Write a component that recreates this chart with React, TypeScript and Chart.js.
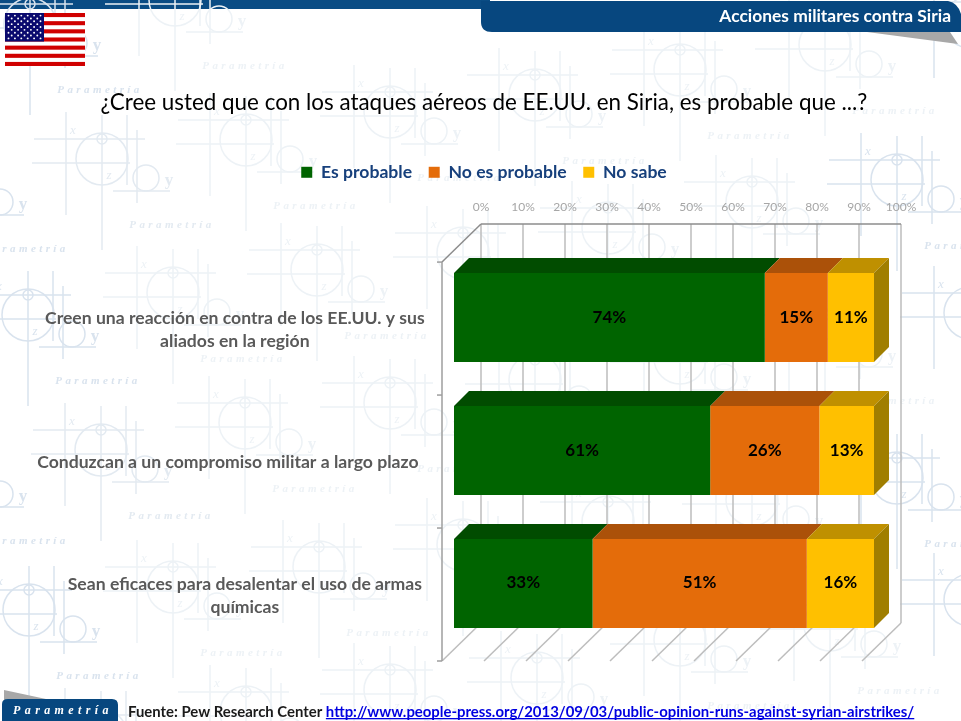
import React, { useEffect, useRef } from "react";
import { Chart, registerables } from "chart.js";

Chart.register(...registerables);

const categories: (string | string[])[] = [
  ["Creen una reacción en contra de los EE.UU. y sus", "aliados en la región"],
  "Conduzcan a un compromiso militar a largo plazo",
  ["Sean eficaces para desalentar el uso de armas", "químicas"],
];
const esProbable = [74, 61, 33];
const noEsProbable = [15, 26, 51];
const noSabe = [11, 13, 16];
const seriesNames = ["Es probable", "No es probable", "No sabe"];

const titleText = "¿Cree usted que con los ataques aéreos de EE.UU. en Siria, es probable que ...?";
const headerText = "Acciones militares contra Siria";
const sourceText = "Fuente: Pew Research Center ";
const sourceLink = "http://www.people-press.org/2013/09/03/public-opinion-runs-against-syrian-airstrikes/";
const brandText = "Parametría";

const FACE = ["#006400", "#E46C0A", "#FFC000"];
const TOP = ["#014C00", "#AB5109", "#BF9000"];
const SIDE = "#A07E00";
const FONT = "Lato";
const SERIF = "'Liberation Serif'";

const MOTIFS: [number, number][] = [
  [30, 24], [175, 0],
  [-44, 183], [102, 159], [246, 140], [390, 112], [535, 95], [680, 70], [825, 45], [970, 22],
  [28, 315], [173, 293], [317, 270], [463, 253], [608, 228], [752, 202], [897, 180],
  [-44, 475], [101, 450], [245, 423], [390, 403], [535, 380], [680, 358], [825, 335], [970, 313],
  [29, 610], [173, 587], [319, 567], [463, 545], [608, 522], [752, 500], [897, 478],
  [101, 735], [246, 712], [390, 690], [537, 678], [680, 640], [830, 625], [970, 600],
];

function seg(c: CanvasRenderingContext2D, x1: number, y1: number, x2: number, y2: number) {
  c.beginPath();
  c.moveTo(x1, y1);
  c.lineTo(x2, y2);
  c.stroke();
}
function poly(c: CanvasRenderingContext2D, pts: number[][], fill: string) {
  c.beginPath();
  pts.forEach((p, i) => (i ? c.lineTo(p[0], p[1]) : c.moveTo(p[0], p[1])));
  c.closePath();
  c.fillStyle = fill;
  c.fill();
}

function drawMotif(c: CanvasRenderingContext2D, x: number, y: number) {
  const dark = x < 60 || x > 860;
  const col = dark ? "#d9e3ee" : x < 110 ? "#e3eaf1" : "#edf2f6";
  c.strokeStyle = col;
  c.fillStyle = col;
  c.lineWidth = 1.5;
  seg(c, x - 36, y - 47, x - 36, y + 56);
  seg(c, x, y - 44, x, y + 91);
  seg(c, x + 25, y - 44, x + 25, y + 26);
  seg(c, x + 35, y - 29, x + 35, y + 44);
  seg(c, x - 68, y - 20, x + 43, y - 20);
  seg(c, x - 70, y + 4, x + 28, y + 4);
  seg(c, x + 11, y + 32, x + 68, y + 32);
  c.beginPath();
  c.arc(x, y, 26, 0, Math.PI * 2);
  c.stroke();
  c.beginPath();
  c.arc(x, y - 20, 5, 0, Math.PI * 2);
  c.stroke();
  c.beginPath();
  c.arc(x + 44, y + 19, 13, 0, Math.PI * 2);
  c.stroke();
  c.textAlign = "center";
  c.textBaseline = "middle";
  c.font = `italic 13px ${SERIF}`;
  c.fillText("x", x - 29, y - 28);
  c.fillText("z", x + 7, y + 17);
  c.font = `bold 17px ${SERIF}`;
  c.fillText("y", x + 67, y + 22);
  c.font = `italic bold 11px ${SERIF}`;
  (c as any).letterSpacing = "3.4px";
  c.fillText(brandText, x + 70, y + 66);
  (c as any).letterSpacing = "0px";
}

function drawFlag(c: CanvasRenderingContext2D) {
  const fx = 5, fy = 13, fw = 80, fh = 53;
  c.fillStyle = "#fff";
  c.fillRect(fx, fy, fw, fh);
  c.fillStyle = "#D00000";
  for (let i = 0; i < 13; i += 2) c.fillRect(fx, fy + (i * fh) / 13, fw, fh / 13);
  c.fillStyle = "#0A0A6E";
  c.fillRect(fx, fy, 39, (7 * fh) / 13);
  c.fillStyle = "#fff";
  for (let r = 0; r < 9; r++) {
    const n = r % 2 ? 5 : 6;
    for (let s = 0; s < n; s++) {
      c.beginPath();
      c.arc(fx + 3.5 + (r % 2 ? 3.2 : 0) + s * 6.4, fy + 2.6 + r * 2.85, 0.95, 0, Math.PI * 2);
      c.fill();
    }
  }
}

function drawPage(chart: any) {
  const c: CanvasRenderingContext2D = chart.ctx;
  const W = chart.width, H = chart.height;
  c.save();
  c.fillStyle = "#fff";
  c.fillRect(0, 0, W, H);
  // top band, then the watermark over it
  c.fillStyle = "#0A4C84";
  c.fillRect(0, 0, 490, 9);
  MOTIFS.forEach(([x, y]) => drawMotif(c, x, y));
  // header tab
  poly(c, [[867, 32], [950, 32], [958, 44]], "#A8A8A8");
  c.beginPath();
  c.moveTo(481, 0);
  c.lineTo(481, 22);
  c.quadraticCurveTo(481, 32, 492, 32);
  c.lineTo(961, 32);
  c.lineTo(961, 14);
  c.quadraticCurveTo(958, 3, 948, 1);
  c.lineTo(481, 1);
  c.closePath();
  c.fillStyle = "#07477F";
  c.fill();
  c.fillStyle = "#fff";
  c.textAlign = "right";
  c.textBaseline = "middle";
  c.font = `bold 17.4px ${FONT}`;
  c.fillText(headerText, 951, 16);
  drawFlag(c);
  // footer tag
  poly(c, [[4, 690], [46, 699], [4, 700]], "#A8A8A8");
  c.beginPath();
  c.moveTo(2, 721);
  c.lineTo(2, 704);
  c.quadraticCurveTo(2, 699, 8, 699);
  c.lineTo(112, 699);
  c.quadraticCurveTo(118, 699, 118, 705);
  c.lineTo(118, 721);
  c.closePath();
  c.fillStyle = "#07477F";
  c.fill();
  c.fillStyle = "#fff";
  c.textAlign = "left";
  c.font = `italic bold 12px ${SERIF}`;
  (c as any).letterSpacing = "4.4px";
  c.fillText(brandText, 13, 711);
  (c as any).letterSpacing = "0px";
  // source
  c.font = `bold 14.9px ${FONT}`;
  c.fillStyle = "#1A1A1A";
  c.textBaseline = "alphabetic";
  c.fillText(sourceText, 128, 716.5);
  const sx = 128 + c.measureText(sourceText).width;
  c.fillStyle = "#0000E0";
  c.fillText(sourceLink, sx, 716.5);
  c.fillRect(sx, 718, c.measureText(sourceLink).width, 1.3);
  c.restore();
}

function draw3D(chart: any) {
  const c: CanvasRenderingContext2D = chart.ctx;
  const { chartArea: a, scales } = chart;
  const x = scales.x;
  const backDX = 27, backDY = 27, frontDX = -12, frontDY = 11;
  c.save();
  const band = (a.bottom - a.top) / categories.length;
  // back wall and floor
  c.strokeStyle = "#BDBDBD";
  c.lineWidth = 1.5;
  x.ticks.forEach((t: any) => {
    const px = x.getPixelForValue(t.value);
    seg(c, px + backDX, a.top - backDY, px + backDX, a.bottom - backDY);
    seg(c, px + backDX, a.bottom - backDY, px + frontDX, a.bottom + frontDY);
  });
  c.strokeStyle = "#8C8C8C";
  seg(c, a.left + backDX, a.top - backDY, a.right + backDX, a.top - backDY);
  seg(c, a.left + backDX, a.top - backDY, a.left + frontDX, a.top + frontDY);
  c.strokeStyle = "#9E9E9E";
  seg(c, a.left + frontDX, a.top + frontDY, a.left + frontDX, a.bottom + frontDY);
  for (let i = 0; i <= categories.length; i++) {
    const y = a.top + frontDY + i * band;
    seg(c, a.left + frontDX - 5, y, a.left + frontDX, y);
  }
  // bar depth
  const d = 15;
  chart.data.datasets.forEach((_: any, i: number) => {
    chart.getDatasetMeta(i).data.forEach((el: any) => {
      const p = el.getProps(["x", "y", "base", "height"], true);
      const t = p.y - p.height / 2, b = p.y + p.height / 2;
      poly(c, [[p.base, t], [p.x, t], [p.x + d, t - d], [p.base + d, t - d]], TOP[i]);
      if (i === chart.data.datasets.length - 1) {
        poly(c, [[p.x, t], [p.x + d, t - d], [p.x + d, b - d], [p.x, b]], SIDE);
      }
    });
  });
  c.restore();
}

function drawValues(chart: any) {
  const c: CanvasRenderingContext2D = chart.ctx;
  c.save();
  c.fillStyle = "#000";
  c.font = `bold 17px ${FONT}`;
  c.textAlign = "center";
  c.textBaseline = "middle";
  chart.data.datasets.forEach((ds: any, i: number) => {
    chart.getDatasetMeta(i).data.forEach((el: any, j: number) => {
      const p = el.getProps(["x", "y", "base"], true);
      c.fillText(`${ds.data[j]}%`, (p.x + p.base) / 2, p.y - 0.5);
    });
  });
  c.restore();
}

const slidePlugin = {
  id: "slide3d",
  afterLayout(chart: any) {
    // each category label has its own centre in the reference, on the front plane of the 3D box
    const nudge = [0, -7, 10];
    const s = chart.scales.y;
    s._labelItems = null;
    s.getLabelItems(chart.chartArea).forEach((it: any, i: number) => {
      it.options.translation = [it.options.translation[0] + nudge[i], it.options.translation[1] + 12];
    });
  },
  beforeDraw: drawPage,
  beforeDatasetsDraw: draw3D,
  afterDatasetsDraw: drawValues,
};

export default function App() {
  const ref = useRef<HTMLCanvasElement>(null);
  useEffect(() => {
    const chart = new Chart(ref.current as HTMLCanvasElement, {
      type: "bar",
      plugins: [slidePlugin],
      data: {
        labels: categories as any,
        datasets: [esProbable, noEsProbable, noSabe].map((data, i) => ({
          label: seriesNames[i],
          data,
          backgroundColor: FACE[i],
          borderWidth: 0,
          xAxisID: "x",
          yAxisID: "y",
          barPercentage: 89 / 133,
          categoryPercentage: 1,
        })),
      },
      options: {
        indexAxis: "y",
        responsive: false,
        animation: false,
        layout: { padding: { left: 7, right: 0, top: 0, bottom: 71 } },
        scales: {
          x: {
            position: "top",
            stacked: true,
            min: 0,
            max: 100,
            grid: { display: false },
            border: { display: false },
            afterFit: (s: any) => {
              s.height = 60;
            },
            ticks: {
              stepSize: 10,
              autoSkip: false,
              maxRotation: 0,
              minRotation: 0,
              padding: 29,
              labelOffset: 27,
              color: "#A6A6A6",
              font: { family: FONT, size: 12 },
              callback: (v: any) => `${v}%`,
            },
          },
          y: {
            position: "left",
            stacked: true,
            grid: { display: false },
            border: { display: false },
            afterFit: (s: any) => {
              s.width = 447;
            },
            ticks: {
              crossAlign: "center",
              padding: 20.5,
              autoSkip: false,
              color: "#595959",
              font: { family: FONT, size: 17.6, weight: "bold", lineHeight: 1.3 },
            },
          },
          y2: {
            position: "right",
            type: "linear",
            grid: { display: false },
            border: { display: false },
            ticks: { display: false },
            afterFit: (s: any) => {
              s.width = 87;
            },
          },
        },
        plugins: {
          tooltip: { enabled: false },
          title: {
            display: true,
            text: titleText,
            color: "#000",
            font: { family: FONT, size: 22.4, weight: "normal", lineHeight: 1.2 },
            padding: { top: 89, bottom: 31 },
          },
          legend: {
            display: true,
            position: "top",
            labels: {
              boxWidth: 11,
              boxHeight: 11,
              padding: 16.6,
              color: "#17407C",
              font: { family: FONT, size: 17.6, weight: "bold" },
            },
          },
        },
      },
    } as any);
    return () => chart.destroy();
  }, []);
  return (
    <canvas
      ref={ref}
      width={961}
      height={721}
      style={{ position: "absolute", left: 0, top: 0, display: "block" }}
    />
  );
}
